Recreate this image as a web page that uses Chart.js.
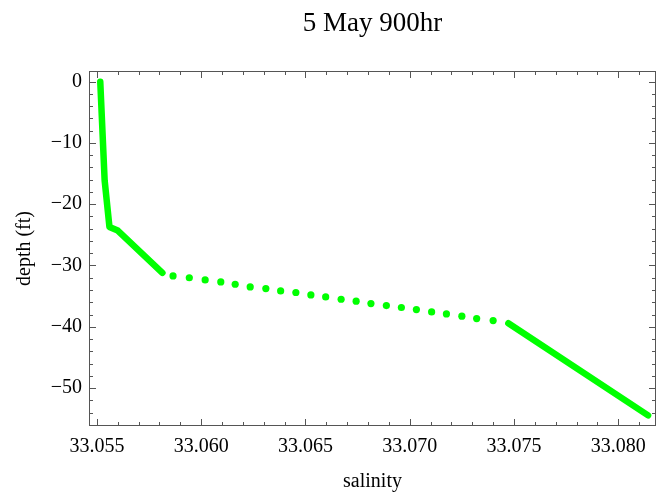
<!DOCTYPE html>
<html lang="en">
<head>
    <meta charset="UTF-8">
    <title>5 May 900hr</title>
    <script src="https://cdn.jsdelivr.net/npm/chart.js"></script>
    <style>
        body {
            margin: 0;
            background: #fff;
        }
        .chart-box {
            width: 660px;
            height: 495px;
        }
    </style>
</head>
<body>
    <div class="chart-box">
        <canvas id="profileChart" width="660" height="495"></canvas>
    </div>

    <script>
        // upper solid stretch of the profile
        var upperSalinity = [33.05516, 33.05537, 33.05560, 33.05600, 33.05814];
        var upperDepth = [0, -16.1, -23.7, -24.3, -31.2];

        // sparse readings in the middle
        var midSalinity = [33.05865, 33.05943, 33.06019, 33.06094, 33.06163, 33.06235, 33.06310,
            33.06381, 33.06454, 33.06526, 33.06597, 33.06671, 33.06743, 33.06814, 33.06888,
            33.06960, 33.07032, 33.07105, 33.07176, 33.07250, 33.07321, 33.07400];
        var midDepth = [-31.7, -32.0, -32.35, -32.68, -33.06, -33.5, -33.76, -34.15, -34.41,
            -34.8, -35.13, -35.51, -35.83, -36.21, -36.54, -36.86, -37.19, -37.58, -37.91,
            -38.28, -38.66, -38.99];

        // lower solid stretch
        var lowerSalinity = [33.07473, 33.08143];
        var lowerDepth = [-39.43, -54.46];

        // tick labels
        var xTickValues = [33.055, 33.060, 33.065, 33.070, 33.075, 33.080];
        var xTickLabels = ['33.055', '33.060', '33.065', '33.070', '33.075', '33.080'];
        var yTickValues = [0, -10, -20, -30, -40, -50];
        var yTickLabels = ['0', '\u221210', '\u221220', '\u221230', '\u221240', '\u221250'];

        function toPoints(xs, ys) {
            return xs.map(function (x, i) { return { x: x, y: ys[i] }; });
        }

        var green = '#00ff00';
        var serif = 'Liberation Serif';

        // Mathematica style frame with inward ticks on every side
        var framePlugin = {
            id: 'frame',
            beforeDatasetsDraw: function (chart) {
                var ctx = chart.ctx;
                var a = chart.chartArea;
                var xs = chart.scales.x, ys = chart.scales.y;
                ctx.save();
                ctx.strokeStyle = '#555';
                ctx.lineWidth = 1;
                ctx.strokeRect(Math.round(a.left) + 0.5, Math.round(a.top) + 0.5,
                    Math.round(a.right - a.left) - 1, Math.round(a.bottom - a.top) - 1);
                ctx.beginPath();
                xs.ticks.forEach(function (t) {
                    var major = xTickValues.some(function (v) { return Math.abs(v - t.value) < 1e-7; });
                    var len = major ? 7 : 4;
                    var px = Math.round(xs.getPixelForValue(t.value)) + 0.5;
                    ctx.moveTo(px, a.bottom);
                    ctx.lineTo(px, a.bottom - len);
                    ctx.moveTo(px, a.top);
                    ctx.lineTo(px, a.top + len);
                });
                ys.ticks.forEach(function (t) {
                    var major = yTickValues.indexOf(t.value) !== -1;
                    var len = major ? 7 : 4;
                    var py = Math.round(ys.getPixelForValue(t.value)) + 0.5;
                    ctx.moveTo(a.left, py);
                    ctx.lineTo(a.left + len, py);
                    ctx.moveTo(a.right, py);
                    ctx.lineTo(a.right - len, py);
                });
                ctx.stroke();
                ctx.restore();
            }
        };

        var ctx = document.getElementById('profileChart').getContext('2d');
        new Chart(ctx, {
            type: 'scatter',
            data: {
                datasets: [{
                    data: toPoints(upperSalinity, upperDepth),
                    showLine: true,
                    borderColor: green,
                    borderWidth: 6.5,
                    borderCapStyle: 'round',
                    borderJoinStyle: 'round',
                    pointRadius: 0
                }, {
                    data: toPoints(midSalinity, midDepth),
                    showLine: false,
                    backgroundColor: green,
                    borderWidth: 0,
                    pointRadius: 3.6
                }, {
                    data: toPoints(lowerSalinity, lowerDepth),
                    showLine: true,
                    borderColor: green,
                    borderWidth: 6.5,
                    borderCapStyle: 'round',
                    borderJoinStyle: 'round',
                    pointRadius: 0
                }]
            },
            options: {
                responsive: false,
                animation: false,
                layout: { padding: { left: 0, right: 1, top: 0, bottom: 0 } },
                plugins: {
                    legend: { display: false },
                    tooltip: { enabled: false },
                    title: {
                        display: true,
                        fullSize: false,
                        text: '5 May 900hr',
                        color: '#000',
                        font: { family: serif, size: 27, weight: 'normal' },
                        padding: { top: 8, bottom: 30.6 }
                    }
                },
                scales: {
                    x: {
                        type: 'linear',
                        min: 33.05462,
                        max: 33.08181,
                        grid: { display: false, drawTicks: false },
                        border: { display: false },
                        afterBuildTicks: function (scale) {
                            var ticks = [];
                            for (var i = 0; i <= 26; i++) ticks.push({ value: 33.055 + i * 0.001 });
                            scale.ticks = ticks;
                        },
                        afterFit: function (scale) { scale.height = 69; },
                        ticks: {
                            autoSkip: false,
                            maxRotation: 0,
                            padding: 9,
                            color: '#000',
                            font: { family: serif, size: 20 },
                            callback: function (value) {
                                for (var i = 0; i < xTickValues.length; i++) {
                                    if (Math.abs(xTickValues[i] - value) < 1e-7) return xTickLabels[i];
                                }
                                return '';
                            }
                        },
                        title: {
                            display: true,
                            text: 'salinity',
                            color: '#000',
                            font: { family: serif, size: 20 },
                            padding: { top: 0, bottom: 1 }
                        }
                    },
                    y: {
                        type: 'linear',
                        min: -56.2,
                        max: 1.75,
                        grid: { display: false, drawTicks: false },
                        border: { display: false },
                        afterBuildTicks: function (scale) {
                            var ticks = [];
                            for (var v = -56; v <= 0; v += 2) ticks.push({ value: v });
                            scale.ticks = ticks;
                        },
                        afterFit: function (scale) { scale.width = 89; },
                        ticks: {
                            autoSkip: false,
                            padding: 7,
                            color: '#000',
                            font: { family: serif, size: 20 },
                            callback: function (value) {
                                var i = yTickValues.indexOf(value);
                                return i === -1 ? '' : yTickLabels[i];
                            }
                        },
                        title: {
                            display: true,
                            text: 'depth (ft)',
                            color: '#000',
                            font: { family: serif, size: 20 },
                            padding: { top: 13, bottom: 0 }
                        }
                    }
                }
            },
            plugins: [framePlugin]
        });
    </script>
</body>
</html>
